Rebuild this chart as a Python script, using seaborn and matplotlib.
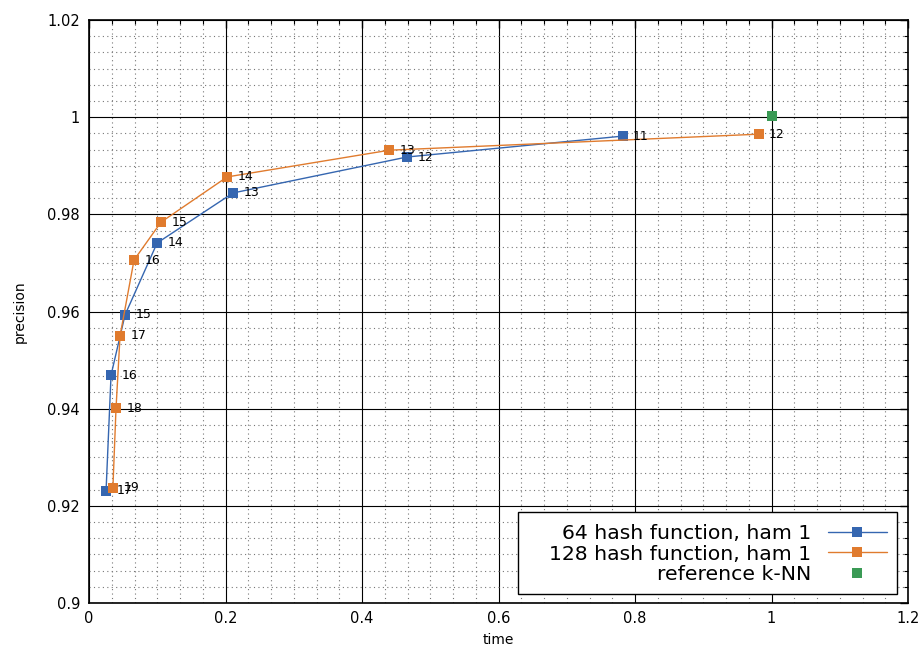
import matplotlib
matplotlib.use("Agg")
import matplotlib.pyplot as plt
import seaborn as sns
import pandas as pd
from matplotlib.patches import Rectangle
from matplotlib.ticker import MultipleLocator, AutoMinorLocator, FuncFormatter

# data
h64_time = [0.782, 0.466, 0.211, 0.0998, 0.0528, 0.0323, 0.025]
h64_prec = [0.9961, 0.9918, 0.9844, 0.9741, 0.9593, 0.9469, 0.9231]
h64_labels = ["11", "12", "13", "14", "15", "16", "17"]

h128_time = [0.981, 0.440, 0.2024, 0.1056, 0.066, 0.0455, 0.0396, 0.035]
h128_prec = [0.9965, 0.9932, 0.9877, 0.9784, 0.9706, 0.955, 0.9401, 0.9237]
h128_labels = ["12", "13", "14", "15", "16", "17", "18", "19"]

ref_time = [1.0]
ref_prec = [1.0002]

blue = "#3566b0"
orange = "#e07b2e"
green = "#3a9a55"

sns.set_theme(style="white")
plt.rcParams['font.family'] = ['DejaVu Sans']
plt.rcParams['text.color'] = 'black'
plt.rcParams['axes.labelcolor'] = 'black'

W, H = 921, 648
fig = plt.figure(figsize=(W/100, H/100), dpi=100)
ax = fig.add_axes([89/W, 1-603/H, (908-89)/W, (603-20)/H])

df64 = pd.DataFrame({"time": h64_time, "precision": h64_prec})
df128 = pd.DataFrame({"time": h128_time, "precision": h128_prec})

sns.lineplot(data=df64, x="time", y="precision", sort=False, ax=ax, color=blue,
             lw=1.0, marker="s", markersize=7, markeredgewidth=0,
             label="64 hash function, ham 1")
sns.lineplot(data=df128, x="time", y="precision", sort=False, ax=ax, color=orange,
             lw=1.0, marker="s", markersize=7, markeredgewidth=0,
             label="128 hash function, ham 1")
ax.plot(ref_time, ref_prec, ls="none", marker="s", markersize=7, markeredgewidth=0,
        color=green, label="reference k-NN")

for x, y, t in zip(h64_time, h64_prec, h64_labels):
    ax.annotate(t, (x, y), xytext=(7.5, 0), textcoords="offset points",
                va="center", ha="left", fontsize=9, color="black")
for x, y, t in zip(h128_time, h128_prec, h128_labels):
    ax.annotate(t, (x, y), xytext=(7.5, 0), textcoords="offset points",
                va="center", ha="left", fontsize=9, color="black")

ax.set_xlim(0, 1.2)
ax.set_ylim(0.9, 1.02)
ax.xaxis.set_major_locator(MultipleLocator(0.2))
ax.yaxis.set_major_locator(MultipleLocator(0.02))
ax.xaxis.set_minor_locator(AutoMinorLocator(6))
ax.yaxis.set_minor_locator(AutoMinorLocator(6))
fmt = FuncFormatter(lambda v, p: "%g" % round(v, 4))
ax.xaxis.set_major_formatter(fmt)
ax.yaxis.set_major_formatter(fmt)

ax.grid(True, which="major", color="black", lw=0.8, ls="-")
ax.grid(True, which="minor", color="#777777", lw=0.8, ls=(0, (1, 3)))
ax.set_axisbelow(True)

ax.tick_params(which="both", direction="in", top=True, right=True,
               colors="black", labelsize=10.5)
ax.tick_params(which="major", length=6, width=1)
ax.tick_params(axis="x", which="major", pad=6)
ax.tick_params(axis="y", which="major", pad=6.5)
ax.tick_params(which="minor", length=3, width=0.8)
for s in ax.spines.values():
    s.set_color("black")
    s.set_linewidth(1.2)

ax.set_xlabel("time", fontsize=10, color="black", labelpad=5)
ax.set_ylabel("precision", fontsize=10, color="black", labelpad=15)

# legend frame drawn manually (gnuplot-like padding)
frame = Rectangle((518/W, 1-594/H), (897-518)/W, (594-512)/H,
                  transform=fig.transFigure, facecolor="white",
                  edgecolor="black", lw=1.0, zorder=4)
ax.add_artist(frame)
frame.set_clip_on(False)

leg = ax.legend(loc="center right", bbox_to_anchor=(887/W, 1-554/H),
                bbox_transform=fig.transFigure, markerfirst=False,
                fontsize=14.7, frameon=False, borderaxespad=0, borderpad=0,
                handlelength=2.9, handletextpad=0.8, labelspacing=0.08)
leg.set_zorder(5)
for t in leg.get_texts():
    t.set_ha("right")
    t.set_color("black")
leg._legend_box.align = "right"

fig.savefig("out.png", dpi=100)
